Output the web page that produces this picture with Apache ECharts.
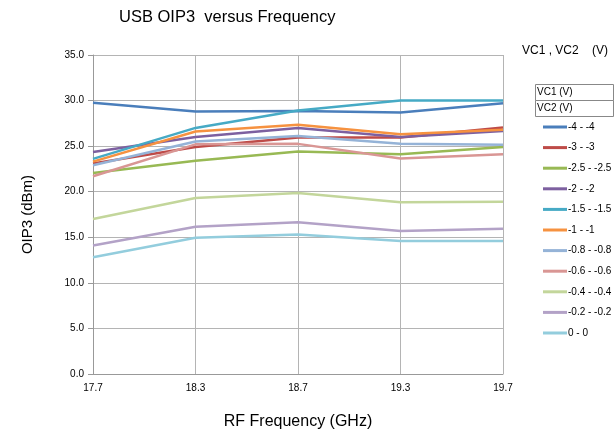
<!DOCTYPE html>
<html>
<head>
<meta charset="utf-8">
<script src="https://cdn.jsdelivr.net/npm/echarts@6/dist/echarts.min.js"></script>
<style>html,body{margin:0;padding:0;background:#fff;}#c{width:615px;height:435px;}</style>
</head>
<body>
<div id="c"></div>
<script>
const categories = ['17.7', '18.3', '18.7', '19.3', '19.7'];
const seriesNames = ['-4 - -4', '-3 - -3', '-2.5 - -2.5', '-2 - -2', '-1.5 - -1.5', '-1 - -1', '-0.8 - -0.8', '-0.6 - -0.6', '-0.4 - -0.4', '-0.2 - -0.2', '0 - 0'];
const s_m4   = [29.75, 28.8, 28.85, 28.7, 29.7];
const s_m3   = [23.1, 24.9, 25.95, 25.95, 27.05];
const s_m25  = [22.05, 23.4, 24.4, 24.1, 24.9];
const s_m2   = [24.35, 26.0, 27.0, 26.0, 26.65];
const s_m15  = [23.6, 27.0, 28.9, 30.0, 30.0];
const s_m1   = [23.3, 26.6, 27.35, 26.3, 26.8];
const s_m08  = [22.9, 25.5, 26.1, 25.25, 25.15];
const s_m06  = [21.7, 25.2, 25.25, 23.65, 24.1];
const s_m04  = [17.0, 19.3, 19.85, 18.85, 18.9];
const s_m02  = [14.1, 16.15, 16.65, 15.7, 15.95];
const s_0    = [12.8, 14.95, 15.3, 14.6, 14.6];
const seriesData = [s_m4, s_m3, s_m25, s_m2, s_m15, s_m1, s_m08, s_m06, s_m04, s_m02, s_0];
const colors = ['#4A7EBB', '#BE4B48', '#98B954', '#7D60A0', '#46AAC5', '#F69240', '#95B3D7', '#D99694', '#C3D69B', '#B3A2C7', '#93CDDD'];
const yTicks = [0, 5, 10, 15, 20, 25, 30, 35];

const chart = echarts.init(document.getElementById('c'));
const font = 'Liberation Sans';
chart.setOption({
  animation: false,
  backgroundColor: '#fff',
  color: colors,
  title: {
    text: 'USB OIP3  versus Frequency',
    left: 114, top: 4,
    textStyle: { fontFamily: font, fontSize: 16.5, fontWeight: 'normal', color: '#000' }
  },
  grid: { left: 93, right: 112, top: 55, bottom: 60 },
  xAxis: {
    type: 'category', data: categories, boundaryGap: false,
    name: 'RF Frequency (GHz)', nameLocation: 'middle', nameGap: 40,
    nameTextStyle: { fontFamily: font, fontSize: 16, color: '#000' },
    axisLine: { lineStyle: { color: '#999', width: 1 } },
    axisTick: { show: false },
    axisLabel: { fontFamily: font, fontSize: 10, color: '#000', margin: 9 },
    splitLine: { show: true, lineStyle: { color: '#B4B4B4', width: 1 } }
  },
  yAxis: {
    type: 'value', min: 0, max: 35, interval: 5,
    name: 'OIP3 (dBm)', nameLocation: 'middle', nameGap: 58,
    nameTextStyle: { fontFamily: font, fontSize: 15, color: '#000' },
    axisLine: { show: true, lineStyle: { color: '#999', width: 1 } },
    axisTick: { show: true, length: 5, inside: false, lineStyle: { color: '#999' } },
    axisLabel: { fontFamily: font, fontSize: 10, color: '#000', margin: 9, formatter: v => (yTicks.includes(v) ? v.toFixed(1) : '') },
    splitLine: { show: true, lineStyle: { color: '#B4B4B4', width: 1 } }
  },
  legend: {
    orient: 'vertical', left: 538, top: 116,
    icon: 'rect', itemWidth: 24, itemHeight: 3, itemGap: 8.6,
    data: seriesNames,
    textStyle: { fontFamily: font, fontSize: 10, color: '#000', lineHeight: 12, padding: [0, 0, 0, -4] }
  },
  graphic: [
    { type: 'text', left: 522, top: 45, style: { text: 'VC1 , VC2    (V)', font: '12px "Liberation Sans"', fill: '#000' } },
    { type: 'rect', shape: { x: 535.5, y: 84.5, width: 78, height: 16 }, style: { fill: '#fff', stroke: '#888', lineWidth: 1 } },
    { type: 'rect', shape: { x: 535.5, y: 100.5, width: 78, height: 16 }, style: { fill: '#fff', stroke: '#888', lineWidth: 1 } },
    { type: 'text', left: 537, top: 87, style: { text: 'VC1 (V)', font: '10px "Liberation Sans"', fill: '#000' } },
    { type: 'text', left: 537, top: 103, style: { text: 'VC2 (V)', font: '10px "Liberation Sans"', fill: '#000' } }
  ],
  series: seriesNames.map((n, i) => ({
    name: n, type: 'line', data: seriesData[i],
    symbol: 'none', lineStyle: { width: 2.5, color: colors[i] },
    itemStyle: { color: colors[i] }
  }))
});
</script>
</body>
</html>
